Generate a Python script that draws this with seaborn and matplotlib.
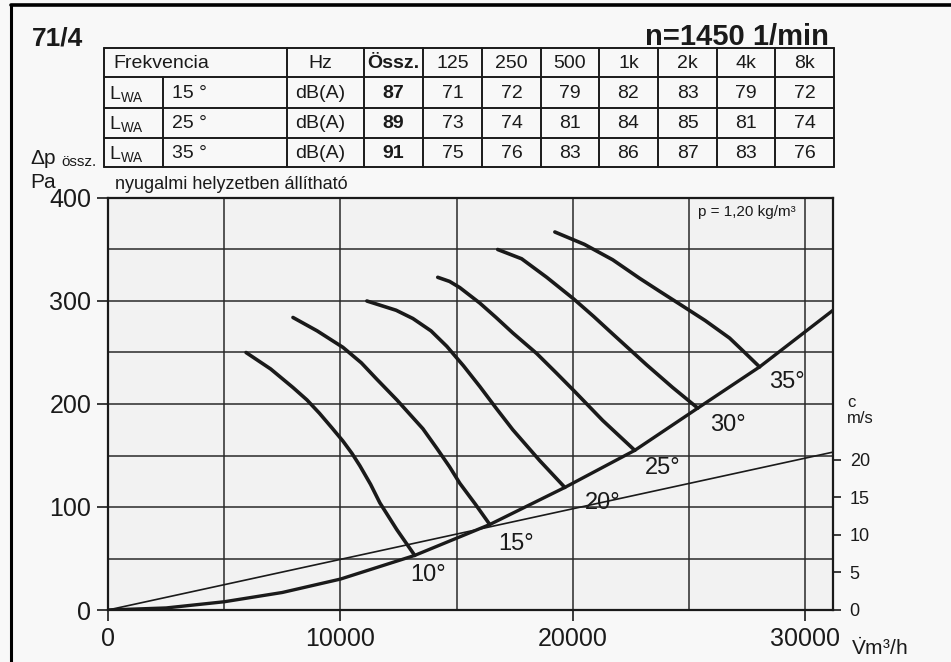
import matplotlib
matplotlib.use('Agg')
import numpy as np
import pandas as pd
import matplotlib.pyplot as plt
import seaborn as sns
from matplotlib import font_manager
from matplotlib.lines import Line2D

# ============================================
# Adatok
# ============================================
ANGLES = ['10°', '15°', '20°', '25°', '30°', '35°']

# lapátszög-jelleggörbék: V [m3/h], dp [Pa]
V_10 = [5940, 7000, 7960, 8560, 9100, 9630, 10110, 10500, 10840, 11300, 11700, 12430, 13200]
P_10 = [250, 234, 216, 204, 191, 177, 164, 152, 140, 122, 104, 78, 53]
V_15 = [7960, 9000, 10110, 10900, 11570, 12430, 13550, 14150, 14700, 15140, 15800, 16430]
P_15 = [284, 271, 255, 240, 224, 204, 176, 157, 139, 123, 103, 83]
V_20 = [11140, 11700, 12400, 13120, 13900, 14580, 15300, 16000, 16700, 17420, 18580, 19660]
P_20 = [300, 296, 291, 283, 271, 256, 237, 217, 196, 175, 145, 119]
V_25 = [14190, 14700, 15140, 16000, 16700, 17420, 18450, 19300, 20090, 21290, 22670]
P_25 = [323, 319, 313, 298, 284, 269, 249, 230, 212, 184, 155]
V_30 = [16770, 17800, 18880, 20040, 20900, 21720, 22450, 23180, 24300, 25380]
P_30 = [350, 341, 323, 302, 285, 268, 253, 238, 216, 196]
V_35 = [19230, 20500, 21720, 22880, 23700, 24600, 25700, 26750, 27400, 28040]
P_35 = [367, 355, 340, 322, 310, 297, 281, 264, 250, 236]

# rendszer-jelleggörbe (parabola)
SYS_V = [0, 2500, 5000, 7500, 10000, 13200, 16430, 19660, 22670, 25380, 28040, 31200]
SYS_P = [0, 2, 8, 17, 30, 53, 83, 119, 155, 196, 236, 291]

# kilépő sebesség c [m/s]
VEL_V = [0, 31200]
VEL_C = [0, 21.0]

# zajtáblázat
FREQS = ['125', '250', '500', '1k', '2k', '4k', '8k']
TABLE_ANGLES = ['15 °', '25 °', '35 °']
TOTAL_DBA = [87, 89, 91]
LWA_15 = [71, 72, 79, 82, 83, 79, 72]
LWA_25 = [73, 74, 81, 84, 85, 81, 74]
LWA_35 = [75, 76, 83, 86, 87, 83, 76]

# ============================================
# Stílus
# ============================================
W, H = 951, 662
sns.set_theme(style='white')
plt.rcParams['font.family'] = ['Liberation Sans', 'DejaVu Sans']
plt.rcParams['mathtext.fontset'] = 'custom'
plt.rcParams['mathtext.rm'] = 'Liberation Sans'
plt.rcParams['mathtext.it'] = 'Liberation Sans'
plt.rcParams['mathtext.bf'] = 'Liberation Sans:bold'

names = {f.name for f in font_manager.fontManager.ttflist}
NARROW = 'Liberation Sans Narrow' if 'Liberation Sans Narrow' in names else 'Liberation Sans'
TSIZE = 16 if NARROW != 'Liberation Sans' else 14
INK = '#1a1a1a'

fig = plt.figure(figsize=(W / 100, H / 100), dpi=100, facecolor='#f8f8f8')

# overlay (pixel koordináták) a szövegekhez és a táblázathoz
tax = fig.add_axes([0, 0, 1, 1], zorder=0)
tax.set_xlim(0, W)
tax.set_ylim(H, 0)
tax.axis('off')

# fő diagram
L, R, T, B = 108, 833, 198, 610
ax = fig.add_axes([L / W, 1 - B / H, (R - L) / W, (B - T) / H], zorder=1)
ax.set_facecolor('#f2f2f2')

curves = pd.concat([
    pd.DataFrame({'V': v, 'p': p, 'angle': a})
    for a, v, p in zip(ANGLES, [V_10, V_15, V_20, V_25, V_30, V_35],
                       [P_10, P_15, P_20, P_25, P_30, P_35])
])
sns.lineplot(data=curves, x='V', y='p', hue='angle',
             palette={a: INK for a in ANGLES}, estimator=None,
             legend=False, lw=2.6, solid_joinstyle='round', ax=ax)
sns.lineplot(x=SYS_V, y=SYS_P, color=INK, lw=2.4, solid_joinstyle='round', ax=ax)

ax.set_xlim(0, 31200)
ax.set_ylim(0, 400)
ax.set_xticks([0, 10000, 20000, 30000])
ax.set_xticks([5000, 15000, 25000], minor=True)
ax.set_yticks([0, 100, 200, 300, 400])
ax.set_yticks([50, 150, 250, 350], minor=True)
ax.grid(True, which='both', color='#2a2a2a', lw=1.1)
ax.tick_params(which='major', direction='out', length=8, width=1.2,
               labelsize=18, pad=4, colors=INK, left=True, bottom=True)
ax.tick_params(which='minor', length=0)
ax.set_xlabel('')
ax.set_ylabel('')
for s in ax.spines.values():
    s.set_color(INK)
    s.set_linewidth(1.6)

# görbe feliratok
offsets = [(13, 20), (26, 19), (38, 16), (28, 18), (30, 17), (27, 15)]
ends = [(V_10[-1], P_10[-1]), (V_15[-1], P_15[-1]), (V_20[-1], P_20[-1]),
        (V_25[-1], P_25[-1]), (V_30[-1], P_30[-1]), (V_35[-1], P_35[-1])]
for a, (v, p), (dx, dy) in zip(ANGLES, ends, offsets):
    ax.annotate(a, (v, p), xytext=(dx, -dy), textcoords='offset pixels',
                ha='center', va='center', fontsize=17, color=INK)

ax.text(0.948, 0.965, 'p = 1,20 kg/m³', transform=ax.transAxes,
        ha='right', va='center', fontsize=11, color=INK)

# sebesség tengely
ax2 = ax.twinx()
sns.lineplot(x=VEL_V, y=VEL_C, color=INK, lw=1.2, ax=ax2)
ax2.set_ylim(0, 400 * 20 / 146)
ax2.set_yticks([0, 5, 10, 15, 20])
ax2.tick_params(direction='out', length=6, width=1.2, labelsize=13,
                pad=6, colors=INK, right=True)
ax2.set_ylabel('')
ax2.grid(False)
for s in ax2.spines.values():
    s.set_visible(False)

# ============================================
# Szövegek
# ============================================
tax.text(32, 45, '71/4', fontsize=19, fontweight='bold', color=INK, va='baseline')
tax.text(829, 45, 'n=1450 1/min', fontsize=21, fontweight='bold', color=INK,
         ha='right', va='baseline')
tax.text(30, 164, 'Δp', fontsize=15, color=INK, va='baseline')
tax.text(61, 166, 'össz.', fontsize=11, color=INK, va='baseline')
tax.text(30, 188, 'Pa', fontsize=15, color=INK, va='baseline')
tax.text(115, 189, 'nyugalmi helyzetben állítható', fontsize=TSIZE - 1,
         family=NARROW, color=INK, va='baseline')
tax.text(847, 407, 'c', fontsize=12, color=INK, va='baseline')
tax.text(847, 423, 'm/s', fontsize=12, color=INK, va='baseline')
tax.text(851, 655, r'$\dot{\mathrm{V}}$m³/h', fontsize=15, color=INK, va='baseline')

# keret
fig.add_artist(Line2D([11 / W, 11 / W], [0, 1 - 5 / H], color='black', lw=2.2))
fig.add_artist(Line2D([11 / W, 1], [1 - 5 / H, 1 - 5 / H], color='black', lw=2.6))

# ============================================
# Zajtáblázat
# ============================================
COL_X = [104, 287, 364, 423, 482, 541, 599, 658, 717, 775, 834]
ROW_Y = [48, 77, 108, 138, 167]
SPLIT_X = 163
for y in ROW_Y:
    tax.plot([COL_X[0], COL_X[-1]], [y, y], color=INK, lw=1.4)
for x in COL_X:
    tax.plot([x, x], [ROW_Y[0], ROW_Y[-1]], color=INK, lw=1.4)
tax.plot([SPLIT_X, SPLIT_X], [ROW_Y[1], ROW_Y[-1]], color=INK, lw=1.4)


def row_mid(i):
    return (ROW_Y[i] + ROW_Y[i + 1]) / 2 + 1


cell = dict(fontsize=TSIZE, family=NARROW, color=INK, va='center')
tax.text(113, row_mid(0), 'Frekvencia', **cell)
tax.text(320, row_mid(0), 'Hz', ha='center', **cell)
tax.text(393, row_mid(0), 'Össz.', ha='center', fontweight='bold', **cell)
for j, f in enumerate(FREQS):
    tax.text((COL_X[3 + j] + COL_X[4 + j]) / 2, row_mid(0), f, ha='center', **cell)

for i, (ang, tot, vals) in enumerate(zip(TABLE_ANGLES, TOTAL_DBA,
                                         [LWA_15, LWA_25, LWA_35])):
    ym = row_mid(i + 1)
    tax.text(109, ym, r'L$_{\mathrm{WA}}$', **cell)
    tax.text(172, ym, ang, **cell)
    tax.text(320, ym, 'dB(A)', ha='center', **cell)
    tax.text(393, ym, str(tot), ha='center', fontweight='bold', **cell)
    for j, v in enumerate(vals):
        tax.text((COL_X[3 + j] + COL_X[4 + j]) / 2, ym, str(v), ha='center', **cell)

fig.savefig('out.png', dpi=100, facecolor=fig.get_facecolor())
